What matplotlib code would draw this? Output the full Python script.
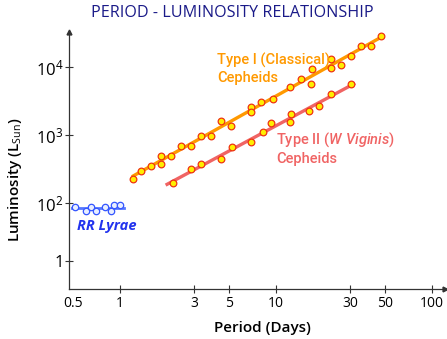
import numpy as np
import matplotlib
matplotlib.use("Agg")
import matplotlib.pyplot as plt

plt.rcParams['font.family'] = ['Open Sans', 'DejaVu Sans']
plt.rcParams['mathtext.fontset'] = 'custom'
plt.rcParams['mathtext.rm'] = 'Open Sans'
plt.rcParams['mathtext.it'] = 'Roboto:italic:medium'

# Type I (classical) cepheids: period (days), luminosity (L_sun)
type1_period = [1.22, 1.36, 1.57, 1.82, 1.82, 2.11, 2.45, 2.84, 3.29, 3.81, 4.42, 5.12,
                6.88, 6.88, 7.98, 9.52, 12.2, 14.4, 16.7, 16.9, 22.4, 22.4, 26.0, 30.1,
                34.9, 40.5, 46.9]
type1_lum = [223, 299, 350, 486, 375, 486, 682, 682, 957, 957, 1589, 1342,
             2608, 2157, 3028, 3384, 5022, 6590, 5565, 9250, 13250, 9770, 10590, 14520,
             20150, 20150, 28250]

# Type II (W Virginis) cepheids
type2_period = [2.20, 2.84, 3.29, 4.42, 5.20, 6.88, 8.22, 9.25, 12.2, 12.4, 16.2, 18.8,
                22.4, 30.1]
type2_lum = [195, 313, 371, 440, 659, 781, 1096, 1486, 1538, 2015, 2253, 2643,
             3968, 5570]

# RR Lyrae
rr_period = [0.517, 0.601, 0.650, 0.702, 0.805, 0.873, 0.909, 1.004]
rr_lum = [85.9, 77.1, 88.3, 76.3, 88.3, 77.1, 92.5, 92.5]

# period ranges covered by the trend lines
type1_range = [1.19, 48.4]
type2_range = [1.96, 32.1]
rr_range = [0.492, 1.06]

xticks = [0.5, 1, 3, 5, 10, 30, 50, 100]
xtick_labels = ['0.5', '1', '3', '5', '10', '30', '50', '100']
yticks = [14, 1e2, 1e3, 1e4]
ytick_labels = ['1', r'10$^2$', r'10$^3$', r'10$^4$']

orange = '#ff9900'
salmon = '#f06464'
blue = '#2233ee'


def trend(period, lum, prange, deg=1):
    # straight line in log-log space
    coef = np.polyfit(np.log10(period), np.log10(lum), deg)
    xs = np.log10(prange)
    return prange, 10 ** np.polyval(coef, xs)


fig = plt.figure(figsize=(4.47, 3.39), dpi=100)
ax = fig.add_axes([69 / 447, 50 / 339, 376 / 447, 257 / 339])
ax.set_xscale('log')
ax.set_yscale('log')

# trend lines
px, py = trend(type1_period, type1_lum, type1_range)
ax.plot(px, py, color=orange, lw=2.4, solid_capstyle='butt', zorder=2)
px, py = trend(type2_period, type2_lum, type2_range)
ax.plot(px, py, color=salmon, lw=2.4, solid_capstyle='butt', zorder=2)
px, py = trend(rr_period, rr_lum, rr_range, deg=0)
ax.plot(px, py, color='#5577ff', lw=2.0, zorder=2)

# points
ax.plot(type1_period, type1_lum, 'o', ms=4.8, mfc='#ffee00', mec='#ee3311', mew=0.9, zorder=3)
ax.plot(type2_period, type2_lum, 'o', ms=4.8, mfc='#ffee00', mec='#ee3311', mew=0.9, zorder=3)
ax.plot(rr_period, rr_lum, 'o', ms=4.6, mfc='#e8eeff', mec='#3355ff', mew=0.9, zorder=3)

ax.set_xlim(0.471, 121)
ax.set_ylim(5.43, 32700)

ax.set_xticks(xticks)
ax.set_xticklabels(xtick_labels, fontsize=10)
ax.xaxis.set_minor_locator(matplotlib.ticker.NullLocator())
ax.set_yticks(yticks)
ax.set_yticklabels(ytick_labels, fontsize=12)
ax.yaxis.set_minor_locator(matplotlib.ticker.NullLocator())
ax.tick_params(axis='both', direction='inout', length=6, width=0.8, colors='#333333',
               labelcolor='black')
ax.tick_params(axis='x', pad=2)
ax.tick_params(axis='y', pad=1)
ax.xaxis.get_major_ticks()[0].tick1line.set_visible(False)

for s in ['top', 'right']:
    ax.spines[s].set_visible(False)
for s in ['left', 'bottom']:
    ax.spines[s].set_color('#333333')
    ax.spines[s].set_linewidth(0.9)

# arrow heads on the axes
ax.plot(1, 0, '>', color='#333333', ms=3.5, transform=ax.transAxes, clip_on=False)
ax.plot(0, 1, '^', color='#333333', ms=3.5, transform=ax.transAxes, clip_on=False)

# labels
note_font = ['Roboto', 'DejaVu Sans']
ax.text(0.394, 0.856, 'Type I (Classical)\nCepheids', color=orange, fontsize=10.5,
        family=note_font, fontweight='medium',
        ha='left', va='center', linespacing=1.25, transform=ax.transAxes)
ax.text(0.551, 0.549, 'Type II ($W\\ Viginis$)\nCepheids', color=salmon, fontsize=10.5,
        family=note_font, fontweight='medium',
        ha='left', va='center', linespacing=1.25, transform=ax.transAxes)
ax.text(0.021, 0.245, 'RR Lyrae', color=blue, fontsize=10.5, fontweight='bold',
        fontstyle='italic', ha='left', va='center', transform=ax.transAxes)

fig.text(0.52, 0.962, 'PERIOD - LUMINOSITY RELATIONSHIP', color='#1a1a88', fontsize=11.6,
         ha='center', va='center')
fig.text(0.586, 0.032, 'Period (Days)', fontsize=11, fontweight='semibold',
         ha='center', va='center')
fig.text(0.034, 0.47, 'Luminosity (L$_{\\rm Sun}$)', fontsize=11, fontweight='semibold',
         rotation=90, ha='center', va='center')

fig.savefig('out.png', dpi=100)
